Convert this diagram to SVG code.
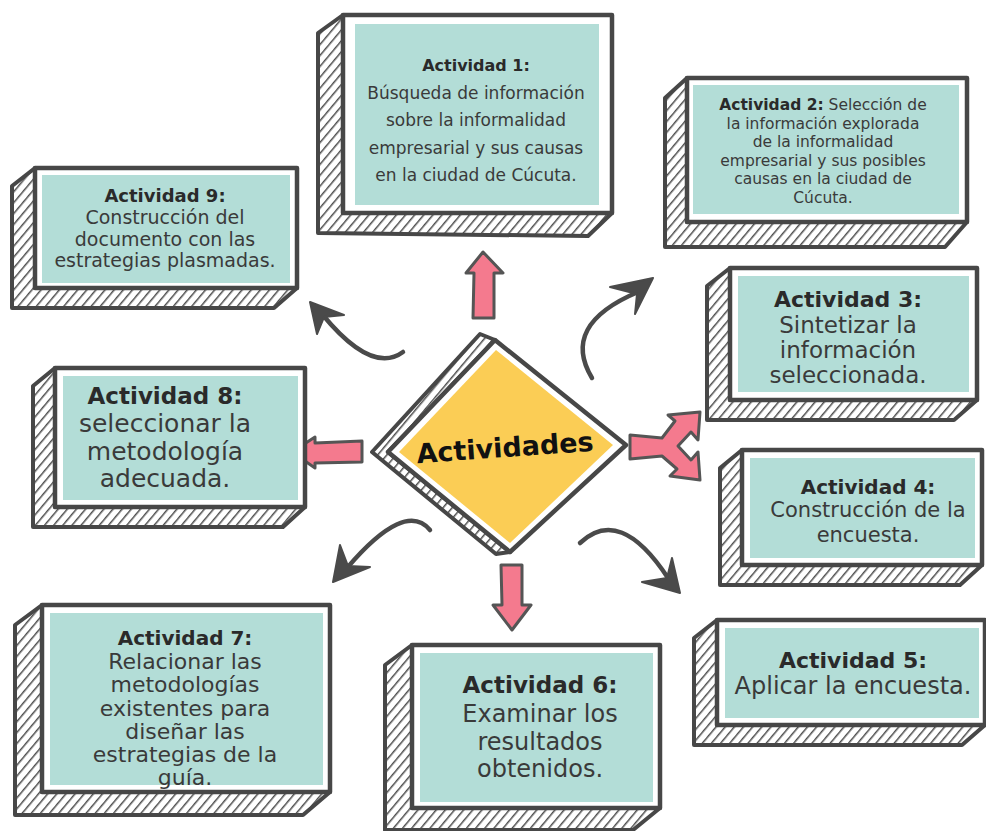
<svg xmlns="http://www.w3.org/2000/svg" width="986" height="831" viewBox="0 0 986 831">
<defs>
<pattern id="hatch" patternUnits="userSpaceOnUse" width="7" height="7" patternTransform="rotate(40)">
<rect width="7" height="7" fill="#ffffff"/>
<line x1="0" y1="0" x2="0" y2="7" stroke="#4d4d4d" stroke-width="3"/>
</pattern>
</defs>
<style>
.side{fill:url(#hatch);stroke:#474747;stroke-width:4;stroke-linejoin:round}
.front{fill:#ffffff;stroke:#474747;stroke-width:4.5;stroke-linejoin:round}
.teal{fill:#b3ddd7}
text{font-family:"DejaVu Sans","Liberation Sans",sans-serif;fill:#3a3a3a;text-anchor:middle}
.b{font-weight:bold;fill:#2a2a2a}
.pink{fill:#f47a8e;stroke:#555;stroke-width:3;stroke-linejoin:round}
.curve{fill:none;stroke:#4a4a4a;stroke-width:4.5;stroke-linecap:round}
.head{fill:#4a4a4a;stroke:#4a4a4a;stroke-width:2;stroke-linejoin:round}
</style>
<rect width="986" height="831" fill="#ffffff"/>

<g id="connectors">
<polygon class="pink" points="483,252 503,273 494,273 494,318 473,318 474,273 466,273"/>
<polygon class="pink" points="512,630 531,605 522,605 522,565 501,565 502,605 493,605"/>
<polygon class="pink" points="292,452 315,437 315,443 362,441 362,462 315,463 315,468"/>
<polygon class="pink" points="630,435 662,438 675,421 668,415 700,412 698,440 691,432 678,446 691,460 698,452 700,480 670,476 677,469 662,456 630,459"/>
<path class="curve" d="M403,352 Q372,375 322,314"/>
<polygon class="head" points="310,302 317,334 324,317 344,315"/>
<path class="curve" d="M592,378 Q560,325 638,292"/>
<polygon class="head" points="653,278 610,287 637,294 635,314"/>
<path class="curve" d="M430,530 Q405,500 347,568"/>
<polygon class="head" points="333,582 340,545 348,566 370,567"/>
<path class="curve" d="M580,543 Q620,505 668,578"/>
<polygon class="head" points="680,593 672,558 667,578 642,582"/>
</g>

<g id="center">
<polygon class="side" points="480,334 372,452 496,554 510,552 388,452 495,340"/>
<polygon class="front" points="495,340 626,445 510,552 388,452"/>
<polygon fill="#fbcd55" points="496,350 613,445 510,543 399,452"/>
<text class="b" x="505" y="457" font-size="27" transform="rotate(-4 505 448)" style="fill:#111">Actividades</text>
</g>

<g id="act1">
<polygon class="side" points="343,15 318,33 318,233 588,236 612,213 343,213"/>
<rect class="front" x="343" y="15" width="269" height="198"/>
<rect class="teal" x="355" y="24" width="244" height="181"/>
<text x="476" y="71" font-size="16" class="b">Actividad 1:</text>
<text x="476" y="99" font-size="17">Búsqueda de información</text>
<text x="476" y="126" font-size="17">sobre la informalidad</text>
<text x="476" y="154" font-size="17">empresarial y sus causas</text>
<text x="476" y="181" font-size="17">en la ciudad de Cúcuta.</text>
</g>

<g id="act2">
<polygon class="side" points="687,78 665,98 665,247 945,247 967,222 687,222"/>
<rect class="front" x="687" y="78" width="280" height="144"/>
<rect class="teal" x="693" y="85" width="266" height="129"/>
<text x="823" y="110" font-size="15.5"><tspan class="b">Actividad 2:</tspan> Selección de</text>
<text x="823" y="128.6" font-size="15.5">la información explorada</text>
<text x="823" y="147.2" font-size="15.5">de la informalidad</text>
<text x="823" y="165.8" font-size="15.5">empresarial y sus posibles</text>
<text x="823" y="184.4" font-size="15.5">causas en la ciudad de</text>
<text x="823" y="203" font-size="15.5">Cúcuta.</text>
</g>

<g id="act3">
<polygon class="side" points="730,268 707,286 707,420 954,420 977,400 730,400"/>
<rect class="front" x="730" y="268" width="247" height="132"/>
<rect class="teal" x="738" y="276" width="231" height="116"/>
<text x="848" y="307" font-size="22" class="b">Actividad 3:</text>
<text x="848" y="333" font-size="23">Sintetizar la</text>
<text x="848" y="358" font-size="23">información</text>
<text x="848" y="383" font-size="23">seleccionada.</text>
</g>

<g id="act4">
<polygon class="side" points="742,450 720,468 720,585 960,585 982,565 742,565"/>
<rect class="front" x="742" y="450" width="240" height="115"/>
<rect class="teal" x="750" y="458" width="225" height="100"/>
<text x="868" y="494" font-size="20" class="b">Actividad 4:</text>
<text x="868" y="517" font-size="21">Construcción de la</text>
<text x="868" y="542" font-size="21">encuesta.</text>
</g>

<g id="act5">
<polygon class="side" points="717,620 694,638 694,745 962,745 985,725 717,725"/>
<rect class="front" x="717" y="620" width="268" height="105"/>
<rect class="teal" x="725" y="628" width="254" height="90"/>
<text x="853" y="668" font-size="22" class="b">Actividad 5:</text>
<text x="853" y="694" font-size="24">Aplicar la encuesta.</text>
</g>

<g id="act6">
<polygon class="side" points="412,645 385,665 385,830 633,830 660,808 412,808"/>
<rect class="front" x="412" y="645" width="248" height="163"/>
<rect class="teal" x="420" y="653" width="233" height="149"/>
<text x="540" y="693" font-size="23" class="b">Actividad 6:</text>
<text x="540" y="722" font-size="24">Examinar los</text>
<text x="540" y="750" font-size="24">resultados</text>
<text x="540" y="777" font-size="24">obtenidos.</text>
</g>

<g id="act7">
<polygon class="side" points="42,605 15,625 15,815 303,815 330,792 42,792"/>
<rect class="front" x="42" y="605" width="288" height="187"/>
<rect class="teal" x="50" y="613" width="273" height="172"/>
<text x="185" y="645" font-size="20" class="b">Actividad 7:</text>
<text x="185" y="669" font-size="22">Relacionar las</text>
<text x="185" y="692" font-size="22">metodologías</text>
<text x="185" y="716" font-size="22">existentes para</text>
<text x="185" y="739" font-size="22">diseñar las</text>
<text x="185" y="762" font-size="22">estrategias de la</text>
<text x="185" y="785" font-size="22">guía.</text>
</g>

<g id="act8">
<polygon class="side" points="55,368 33,386 33,527 283,527 305,507 55,507"/>
<rect class="front" x="55" y="368" width="250" height="139"/>
<rect class="teal" x="63" y="376" width="235" height="124"/>
<text x="165" y="404" font-size="23" class="b">Actividad 8:</text>
<text x="165" y="432" font-size="25">seleccionar la</text>
<text x="165" y="460" font-size="25">metodología</text>
<text x="165" y="487" font-size="25">adecuada.</text>
</g>

<g id="act9">
<polygon class="side" points="35,168 12,186 12,308 274,308 297,288 35,288"/>
<rect class="front" x="35" y="168" width="262" height="120"/>
<rect class="teal" x="42" y="175" width="248" height="108"/>
<text x="165" y="202" font-size="18" class="b">Actividad 9:</text>
<text x="165" y="224" font-size="19">Construcción del</text>
<text x="165" y="246" font-size="19">documento con las</text>
<text x="165" y="267" font-size="19">estrategias plasmadas.</text>
</g>
</svg>
